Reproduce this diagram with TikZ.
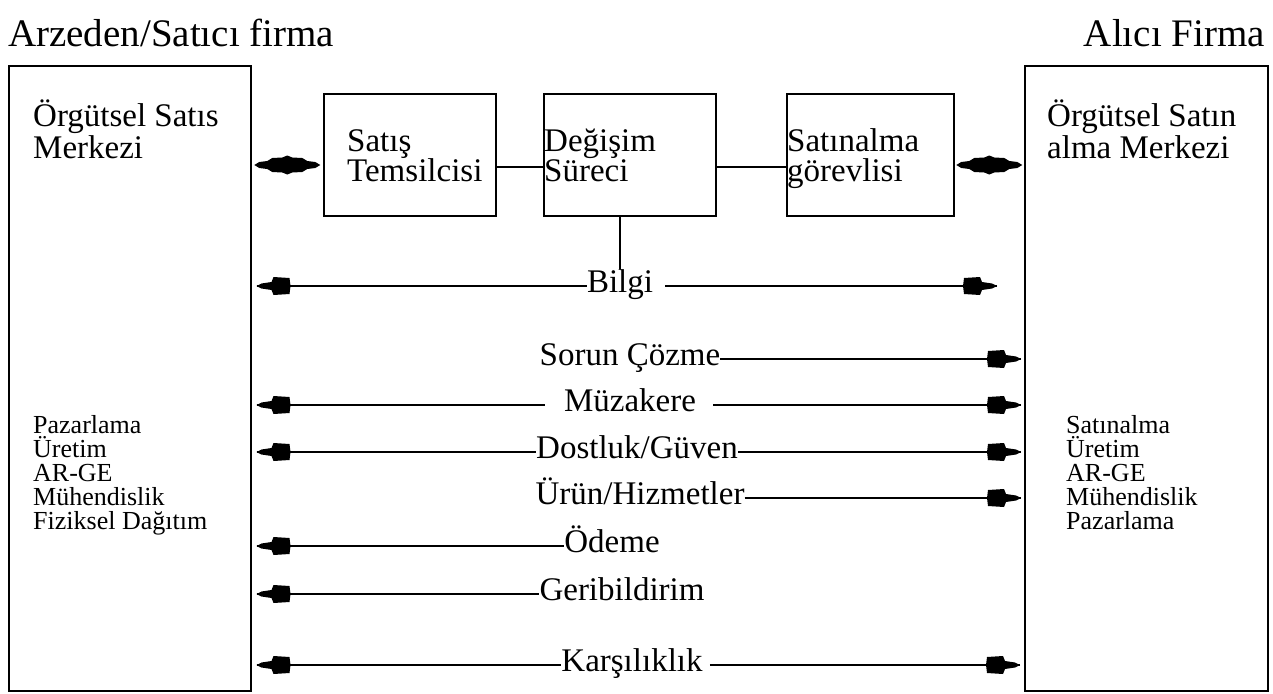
\documentclass[tikz,border=0pt]{standalone}
\usepackage{fontspec}
\setmainfont{Liberation Serif}
\usetikzlibrary{calc}
\begin{document}
\begin{tikzpicture}[x=1pt,y=-1pt,
  frame/.style={draw,line width=1.5pt,inner sep=0pt,anchor=north west},
  ttl/.style={inner sep=0pt,anchor=base west,font=\fontsize{39}{42}\selectfont},
  lbl/.style={inner sep=0pt,anchor=base west,font=\fontsize{33}{28}\selectfont},
  row/.style={inner sep=0pt,anchor=base,font=\fontsize{33}{28}\selectfont},
  small/.style={inner sep=0pt,anchor=base west,font=\fontsize{26}{24}\selectfont},
  flow/.style={line width=1.5pt},
  rhead/.pic={\fill (0,0) -- (-5,-2.5) -- (-15,-4) -- (-17,-9) -- (-33,-8) -- (-34,0)
      -- (-33,8) -- (-17,9) -- (-15,4) -- (-5,2.5) -- cycle;},
  lhead/.pic={\fill (0,0) -- (5,-2.5) -- (15,-4) -- (17,-9) -- (33,-8) -- (34,0)
      -- (33,8) -- (17,9) -- (15,4) -- (5,2.5) -- cycle;},
  fatlink/.pic={\fill (-33,0) -- (-28,-3) -- (-20,-4) -- (-15,-7) -- (-5,-7.5) -- (0,-9.5)
      -- (5,-7.5) -- (15,-7) -- (20,-4) -- (28,-3) -- (33,0) -- (28,3) -- (20,4)
      -- (15,7) -- (5,7.5) -- (0,9.5) -- (-5,7.5) -- (-15,7) -- (-20,4) -- (-28,3) -- cycle;},
]
\useasboundingbox (0,0) rectangle (1273,693);

% firm titles
\node[ttl] (tseller) at (8,47) {Arzeden/Satıcı firma};
\node[ttl,anchor=base east] (tbuyer) at (1265,47) {Alıcı Firma};

% main boxes
\node[frame,minimum width=242,minimum height=625] (seller) at (8,65) {};
\node[frame,minimum width=243,minimum height=625] (buyer) at (1024,65) {};
\node[frame,minimum width=172,minimum height=122] (rep) at (323,93) {};
\node[frame,minimum width=172,minimum height=122] (exch) at (543,93) {};
\node[frame,minimum width=167,minimum height=122] (agent) at (786,93) {};

% box texts
\node[lbl] (s1) at (33,126) {Örgütsel Satıs};
\node[lbl] (s2) at (33,158) {Merkezi};
\node[lbl] (b1) at (1047,126) {Örgütsel Satın};
\node[lbl] (b2) at (1047,158) {alma Merkezi};
\node[lbl] (rep1) at (347,151) {Satış};
\node[lbl] (rep2) at (347,181) {Temsilcisi};
\node[lbl] (ex1) at (544,151) {Değişim};
\node[lbl] (ex2) at (544,181) {Süreci};
\node[lbl] (ag1) at (787,151) {Satınalma};
\node[lbl] (ag2) at (787,181) {görevlisi};

% departments
\node[small] (sd1) at (33,433) {Pazarlama};
\node[small] (sd2) at (33,457) {Üretim};
\node[small] (sd3) at (33,481) {AR-GE};
\node[small] (sd4) at (33,505) {Mühendislik};
\node[small] (sd5) at (33,529) {Fiziksel Dağıtım};
\node[small] (bd1) at (1066,433) {Satınalma};
\node[small] (bd2) at (1066,457) {Üretim};
\node[small] (bd3) at (1066,481) {AR-GE};
\node[small] (bd4) at (1066,505) {Mühendislik};
\node[small] (bd5) at (1066,529) {Pazarlama};

% links between the top boxes
\coordinate (tl) at (0,167);
\coordinate (fl) at (0,165);
\draw[flow] (rep.east |- tl) -- (exch.west |- tl);
\draw[flow] (exch.east |- tl) -- (agent.west |- tl);
\pic at ($(seller.east |- fl)!0.5!(rep.west |- fl)$) {fatlink};
\pic at ($(agent.east |- fl)!0.5!(buyer.west |- fl)$) {fatlink};

% flow rows
\coordinate (r1) at (0,286);
\coordinate (r2) at (0,359);
\coordinate (r3) at (0,405);
\coordinate (r4) at (0,452);
\coordinate (r5) at (0,498);
\coordinate (r6) at (0,546);
\coordinate (r7) at (0,594);
\coordinate (r8) at (0,665);

\node[row] (bilgi) at (620,292) {Bilgi};
\node[row] (sorun) at (630,365) {Sorun Çözme};
\node[row] (muz) at (630,411) {Müzakere};
\node[row] (dost) at (637,458) {Dostluk/Güven};
\node[row] (urun) at (640,504) {Ürün/Hizmetler};
\node[row] (odeme) at (612,552) {Ödeme};
\node[row] (geri) at (622,600) {Geribildirim};
\node[row] (kars) at (632,671) {Karşılıklık};

\draw[flow] (exch.south -| bilgi.north) -- (bilgi.north);

% Bilgi
\draw[flow] ($(seller.east |- r1)+(5,0)$) -- (bilgi.west |- r1);
\draw[flow] ($(bilgi.east |- r1)+(12,0)$) -- ($(buyer.west |- r1)+(-27,0)$);
\pic at ($(seller.east |- r1)+(5,0)$) {lhead};
\pic at ($(buyer.west |- r1)+(-27,0)$) {rhead};
% Sorun Cozme
\draw[flow] (sorun.east |- r2) -- ($(buyer.west |- r2)+(-3,0)$);
\pic at ($(buyer.west |- r2)+(-3,0)$) {rhead};
% Muzakere
\draw[flow] ($(seller.east |- r3)+(5,0)$) -- ($(muz.west |- r3)+(-19,0)$);
\draw[flow] ($(muz.east |- r3)+(17,0)$) -- ($(buyer.west |- r3)+(-3,0)$);
\pic at ($(seller.east |- r3)+(5,0)$) {lhead};
\pic at ($(buyer.west |- r3)+(-3,0)$) {rhead};
% Dostluk/Guven
\draw[flow] ($(seller.east |- r4)+(5,0)$) -- (dost.west |- r4);
\draw[flow] (dost.east |- r4) -- ($(buyer.west |- r4)+(-3,0)$);
\pic at ($(seller.east |- r4)+(5,0)$) {lhead};
\pic at ($(buyer.west |- r4)+(-3,0)$) {rhead};
% Urun/Hizmetler
\draw[flow] (urun.east |- r5) -- ($(buyer.west |- r5)+(-3,0)$);
\pic at ($(buyer.west |- r5)+(-3,0)$) {rhead};
% Odeme
\draw[flow] ($(seller.east |- r6)+(5,0)$) -- (odeme.west |- r6);
\pic at ($(seller.east |- r6)+(5,0)$) {lhead};
% Geribildirim
\draw[flow] ($(seller.east |- r7)+(5,0)$) -- (geri.west |- r7);
\pic at ($(seller.east |- r7)+(5,0)$) {lhead};
% Karsiliklik
\draw[flow] ($(seller.east |- r8)+(5,0)$) -- (kars.west |- r8);
\draw[flow] ($(kars.east |- r8)+(7,0)$) -- ($(buyer.west |- r8)+(-4,0)$);
\pic at ($(seller.east |- r8)+(5,0)$) {lhead};
\pic at ($(buyer.west |- r8)+(-4,0)$) {rhead};
\end{tikzpicture}
\end{document}
